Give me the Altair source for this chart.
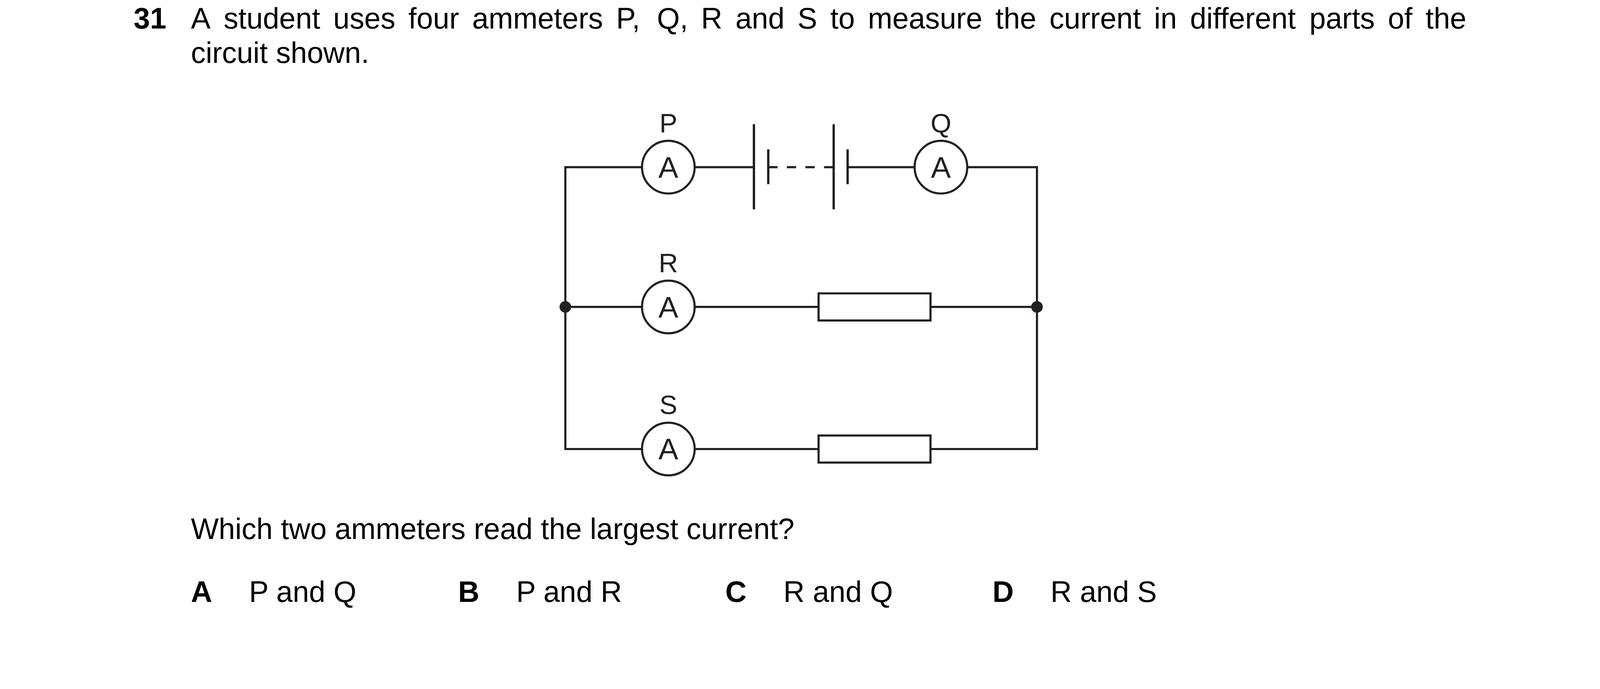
""" Exam question 31: ammeters in a parallel circuit, drawn with Altair """
import altair as alt
import pandas as pd

# --- question text ---
QUESTION_NO = "31"
STEM_WORDS = ["A", "student", "uses", "four", "ammeters", "P,", "Q,", "R", "and", "S",
              "to", "measure", "the", "current", "in", "different", "parts", "of", "the"]
STEM_LINE_2 = "circuit shown."
PROMPT = "Which two ammeters read the largest current?"
OPTION_KEYS = ["A", "B", "C", "D"]
OPTION_TEXT = ["P and Q", "P and R", "R and Q", "R and S"]

# --- circuit (page pixel units) ---
RAIL_X = [1460, 2678]                 # left and right junction rails
BRANCH_Y = [433, 794, 1161]           # battery branch, R branch, S branch
METER_NAMES = ["P", "Q", "R", "S"]
METER_X = [1726, 2430, 1726, 1726]
METER_Y = [433, 433, 794, 1161]
CELL_LONG_X = [1947, 2153]
CELL_SHORT_X = [1984, 2189]
CELL_LONG_SPAN = [322, 542]
CELL_SHORT_SPAN = [387, 477]
RESISTOR_X = [2114, 2403]
RESISTOR_Y = [794, 1161]
JUNCTION_Y = [794, 794]

# --- text layout ---
TEXT_LEFT, TEXT_RIGHT = 493, 3787
LINE_BASELINES = [75, 164, 1393, 1556]
FONT = "Arial, Liberation Sans, sans-serif"
FS = 76
INK = "#231f20"

# Arial advance widths (1/1000 em), used to justify the first stem line
ARIAL = {"A": 667, "P": 667, "Q": 778, "R": 722, "S": 667, ",": 278, " ": 278,
         "a": 556, "c": 500, "d": 556, "e": 556, "f": 278, "h": 556, "i": 222,
         "m": 833, "n": 556, "o": 556, "p": 556, "r": 333, "s": 500, "t": 278, "u": 556}


def word_width(word):
    return sum(ARIAL[c] for c in word) * FS / 1000


# the plot area starts a little below the page margin, so the y domain starts there
X = alt.Scale(domain=[8, 4124], nice=False, zero=False)
Y = alt.Scale(domain=[17, 1757], nice=False, zero=False, reverse=True)


def xy(xf="x:Q", yf="y:Q"):
    return dict(x=alt.X(xf, scale=X, axis=None), y=alt.Y(yf, scale=Y, axis=None))


# wires: outer loop (open at the battery) and the middle branch
top = BRANCH_Y[0]
outer = [(CELL_LONG_X[0], top), (RAIL_X[0], top), (RAIL_X[0], BRANCH_Y[2]),
         (RAIL_X[1], BRANCH_Y[2]), (RAIL_X[1], top), (CELL_SHORT_X[1], top)]
middle = [(RAIL_X[0], BRANCH_Y[1]), (RAIL_X[1], BRANCH_Y[1])]
wire_rows = []
for name, pts in [("outer", outer), ("middle", middle)]:
    for i, (px, py) in enumerate(pts):
        wire_rows.append({"path": name, "order": i, "x": px, "y": py})
wires = (alt.Chart(pd.DataFrame(wire_rows))
         .mark_line(color=INK, strokeWidth=5.5, strokeJoin="miter", strokeCap="square")
         .encode(**xy(), order="order:Q", detail="path:N"))

plates = pd.DataFrame({
    "x": CELL_LONG_X + CELL_SHORT_X,
    "y": [CELL_LONG_SPAN[0]] * 2 + [CELL_SHORT_SPAN[0]] * 2,
    "y2": [CELL_LONG_SPAN[1]] * 2 + [CELL_SHORT_SPAN[1]] * 2,
})
cells = (alt.Chart(plates).mark_rule(color=INK, strokeWidth=6)
         .encode(**xy(), y2="y2:Q"))

dash = (alt.Chart(pd.DataFrame({"x": [CELL_SHORT_X[0]], "x2": [CELL_LONG_X[1]], "y": [top]}))
        .mark_rule(color=INK, strokeWidth=5.5, strokeDash=[24, 24])
        .encode(**xy(), x2="x2:Q"))

res = pd.DataFrame({"x": [RESISTOR_X[0]] * 2, "x2": [RESISTOR_X[1]] * 2,
                    "y": [v - 35 for v in RESISTOR_Y], "y2": [v + 35 for v in RESISTOR_Y]})
resistors = (alt.Chart(res)
             .mark_rect(fill="white", stroke=INK, strokeWidth=5.5)
             .encode(**xy(), x2="x2:Q", y2="y2:Q"))

meters_df = pd.DataFrame({"name": METER_NAMES, "x": METER_X, "y": METER_Y,
                          "label_y": [v - 90 for v in METER_Y], "sym": ["A"] * 4})
meters = (alt.Chart(meters_df)
          .mark_point(shape="circle", filled=True, fill="white", stroke=INK,
                      strokeWidth=5.5, size=136 * 136, opacity=1)
          .encode(**xy()))
meter_a = (alt.Chart(meters_df)
           .mark_text(font=FONT, fontSize=77, color=INK, align="center",
                      baseline="alphabetic", dy=27)
           .encode(**xy(), text="sym:N"))
meter_labels = (alt.Chart(meters_df)
                .mark_text(font=FONT, fontSize=69, color=INK, align="center",
                           baseline="alphabetic")
                .encode(**xy("x:Q", "label_y:Q"), text="name:N"))

dots = (alt.Chart(pd.DataFrame({"x": RAIL_X, "y": JUNCTION_Y}))
        .mark_point(shape="circle", filled=True, color=INK, size=900, opacity=1)
        .encode(**xy()))

# justified first line
widths = [word_width(w) for w in STEM_WORDS]
gap = (TEXT_RIGHT - TEXT_LEFT - sum(widths)) / (len(STEM_WORDS) - 1)
regular = []
cx = TEXT_LEFT
for w, wd in zip(STEM_WORDS, widths):
    regular.append({"x": cx, "y": LINE_BASELINES[0], "text": w})
    cx += wd + gap
regular.append({"x": TEXT_LEFT, "y": LINE_BASELINES[1], "text": STEM_LINE_2})
regular.append({"x": TEXT_LEFT, "y": LINE_BASELINES[2], "text": PROMPT})
bold = [{"x": 345, "y": LINE_BASELINES[0], "text": QUESTION_NO}]
for i, (k, t) in enumerate(zip(OPTION_KEYS, OPTION_TEXT)):
    bold.append({"x": TEXT_LEFT + i * 690, "y": LINE_BASELINES[3], "text": k})
    regular.append({"x": TEXT_LEFT + i * 690 + 150, "y": LINE_BASELINES[3], "text": t})

text_regular = (alt.Chart(pd.DataFrame(regular))
                .mark_text(font=FONT, fontSize=FS, color="black", align="left",
                           baseline="alphabetic")
                .encode(**xy(), text="text:N"))
text_bold = (alt.Chart(pd.DataFrame(bold))
             .mark_text(font=FONT, fontSize=FS, fontWeight="bold", color="black",
                        align="left", baseline="alphabetic")
             .encode(**xy(), text="text:N"))

chart = (alt.layer(wires, cells, dash, resistors, meters, dots, meter_a, meter_labels,
                   text_regular, text_bold)
         .properties(width=4116, height=1740, padding=0, autosize="none",
                     background="white")
         .configure_view(stroke=None))

chart.save("out.html", embed_options={"renderer": "svg", "actions": False})
